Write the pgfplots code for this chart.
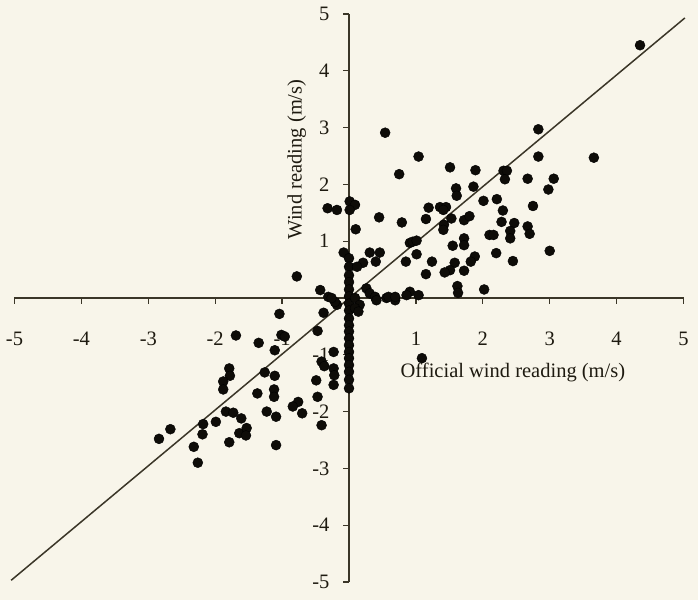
\documentclass[border=0pt]{standalone}
\usepackage{fontspec}
\setmainfont{Liberation Serif}
\usepackage{pgfplots}
\pgfplotsset{compat=1.18}
\usetikzlibrary{backgrounds}
\definecolor{paper}{HTML}{F8F5EA}
\definecolor{ink}{HTML}{3B3628}
\definecolor{dot}{HTML}{0E0C08}
\definecolor{txt}{HTML}{1E1A10}

\begin{document}
\begin{tikzpicture}
\begin{axis}[
  x=66.9pt, y=56.8pt,
  xmin=-5, xmax=5, ymin=-5, ymax=5,
  clip=false,
  axis lines=middle,
  axis line style={-, ink, line width=1.5pt},
  tick align=outside, major tick length=6pt,
  tick style={ink, line width=1.3pt},
  xtick={-5,-4,-3,-2,-1,1,2,3,4,5},
  xticklabels={-5,-4,-3,-2,-1,1,2,3,4,5},
  ytick={-5,-4,-3,-2,-1,1,2,3,4,5},
  yticklabels={-5,-4,-3,-2,-1,1,2,3,4,5},
  ticklabel style={font=\fontsize{20.5}{24}\selectfont, text=txt},
  xticklabel style={anchor=base, yshift=-42pt},
  yticklabel style={anchor=east, xshift=-10pt},
  every axis x label/.style={at={(axis description cs:0.745,0.368)}, anchor=center},
  every axis y label/.style={at={(axis description cs:0.422,0.744)}, rotate=90, anchor=center},
  label style={font=\fontsize{20.5}{24}\selectfont, text=txt},
  xlabel={Official wind reading (m/s)},
  ylabel={Wind reading (m/s)},
]
% y = x reference line
\addplot[ink, line width=1.5pt, no marks] coordinates {(-5.05,-4.97) (5.02,4.93)};

% readings
\addplot[only marks, mark=*, mark size=5pt, mark options={fill=dot, draw=none}] coordinates {
 (-2.84,-2.48) (-2.67,-2.31) (-2.32,-2.62) (-2.26,-2.90) (-2.18,-2.22) (-2.19,-2.40)
 (-1.99,-2.18) (-1.84,-2.00) (-1.73,-2.02) (-1.61,-2.12) (-1.64,-2.38) (-1.53,-2.29)
 (-1.54,-2.42) (-1.79,-2.54) (-1.09,-2.59) (-1.23,-2.00) (-1.09,-2.09) (-0.76,-1.83)
 (-0.84,-1.91) (-0.70,-2.03) (-1.79,-1.24) (-1.78,-1.37) (-1.88,-1.47) (-1.88,-1.61)
 (-1.26,-1.31) (-1.11,-1.37) (-1.12,-1.61) (-1.12,-1.74) (-1.37,-1.68) (-1.69,-0.66)
 (-1.35,-0.79) (-1.11,-0.92) (-1.01,-0.65) (-0.96,-0.68) (-1.04,-0.28) (-0.47,-0.58)
 (-0.38,-0.26) (-0.49,-1.45) (-0.47,-1.74) (-0.41,-2.24) (-0.23,-0.95) (-0.41,-1.12)
 (-0.37,-1.20) (-0.23,-1.24) (-0.22,-1.36) (-0.23,-1.53) (-0.18,-0.12) (-0.21,-0.07)
 (-0.31,0.02) (-0.26,0.00) (-0.43,0.14) (-0.78,0.38)
 (-0.32,1.58) (-0.18,1.55) (0.01,1.70) (0.09,1.64) (0.01,1.55)
 (-0.08,0.80) (0,0.70) (0,0.55) (0,0.40) (0,0.28) (0,0.15) (0,0.03)
 (0,-0.10) (0,-0.22) (0,-0.36) (0,-0.48) (0,-0.59) (0,-0.71) (0,-0.83) (0,-0.95)
 (0,-1.06) (0,-1.18) (0,-1.30) (0,-1.44) (0,-1.59)
 (0.10,1.21) (0.45,1.42) (0.79,1.33) (0.91,0.97) (0.31,0.80) (0.46,0.80)
 (0.40,0.64) (0.21,0.62) (0.12,0.55) (0.85,0.64)
 (0.26,0.17) (0.31,0.08) (0.39,0.02) (0.41,-0.04) (0.56,0.00) (0.69,-0.04)
 (0.09,0.00) (0.16,-0.12) (0.09,-0.18) (0.14,-0.24)
 (0.54,2.91) (1.04,2.49) (0.75,2.18) (1.51,2.30) (1.89,2.25) (2.31,2.24) (2.36,2.24)
 (2.33,2.09) (2.67,2.10) (2.83,2.97) (2.83,2.49) (1.60,1.93) (1.61,1.80) (1.86,1.96)
 (2.01,1.71) (2.21,1.74) (2.30,1.54) (2.75,1.62) (1.19,1.59) (1.36,1.60) (1.45,1.60)
 (1.41,1.55) (1.15,1.39) (1.53,1.40) (1.72,1.37) (1.80,1.44) (1.42,1.29) (1.41,1.20)
 (2.28,1.34) (2.47,1.32) (2.41,1.18) (2.41,1.05) (2.67,1.26) (2.70,1.13) (0.95,0.99)
 (1.01,1.01) (1.01,0.77) (1.72,1.05) (1.72,0.93) (1.55,0.92) (2.10,1.11) (2.16,1.11)
 (2.20,0.79) (2.45,0.65) (1.24,0.64) (1.88,0.73) (1.82,0.64) (1.58,0.62) (1.51,0.49)
 (1.43,0.45) (1.72,0.48) (1.15,0.42) (1.62,0.21) (1.63,0.09) (2.02,0.15)
 (0.91,0.11) (1.04,0.05) (0.59,0.02) (0.69,0.02) (0.86,0.05)
 (4.35,4.45) (3.66,2.47) (3.06,2.10) (2.98,1.91) (3.00,0.83) (1.09,-1.06)
};

\coordinate (bl) at (axis cs:-5.2167,-5.3169);
\coordinate (tr) at (axis cs:5.2167,5.2465);
\end{axis}
\begin{scope}[on background layer]
  \fill[paper] (bl) rectangle (tr);
\end{scope}
\end{tikzpicture}
\end{document}
